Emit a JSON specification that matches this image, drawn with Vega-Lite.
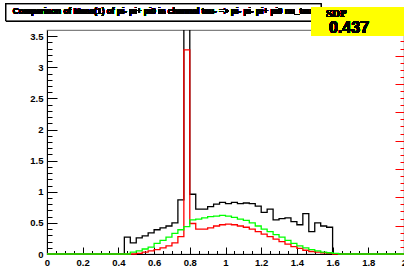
{
  "$schema": "https://vega.github.io/schema/vega-lite/v6.json",
  "width": 357,
  "height": 224,
  "autosize": {"type": "none"},
  "padding": {"left": 47, "top": 30, "right": 0, "bottom": 15},
  "background": "white",
  "config": {
    "view": {"stroke": "#808080", "strokeWidth": 1.2},
    "axis": {"grid": false, "title": null}
  },
  "data": {
    "values": [
      {"mass": 0, "h_black": 0, "h_red": 0, "h_green": 0},
      {"mass": 0.0333, "h_black": 0, "h_red": 0, "h_green": 0},
      {"mass": 0.0667, "h_black": 0, "h_red": 0, "h_green": 0},
      {"mass": 0.1, "h_black": 0, "h_red": 0, "h_green": 0},
      {"mass": 0.1333, "h_black": 0, "h_red": 0, "h_green": 0},
      {"mass": 0.1667, "h_black": 0, "h_red": 0, "h_green": 0},
      {"mass": 0.2, "h_black": 0, "h_red": 0, "h_green": 0},
      {"mass": 0.2333, "h_black": 0, "h_red": 0, "h_green": 0},
      {"mass": 0.2667, "h_black": 0, "h_red": 0, "h_green": 0},
      {"mass": 0.3, "h_black": 0, "h_red": 0, "h_green": 0},
      {"mass": 0.3333, "h_black": 0, "h_red": 0, "h_green": 0},
      {"mass": 0.3667, "h_black": 0, "h_red": 0, "h_green": 0},
      {"mass": 0.4, "h_black": 0, "h_red": 0, "h_green": 0},
      {"mass": 0.4333, "h_black": 0.27, "h_red": 0, "h_green": 0},
      {"mass": 0.4667, "h_black": 0.18, "h_red": 0, "h_green": 0.03},
      {"mass": 0.5, "h_black": 0.26, "h_red": 0.01, "h_green": 0.05},
      {"mass": 0.5333, "h_black": 0.29, "h_red": 0.03, "h_green": 0.08},
      {"mass": 0.5667, "h_black": 0.34, "h_red": 0.05, "h_green": 0.11},
      {"mass": 0.6, "h_black": 0.39, "h_red": 0.07, "h_green": 0.17},
      {"mass": 0.6333, "h_black": 0.42, "h_red": 0.10, "h_green": 0.22},
      {"mass": 0.6667, "h_black": 0.45, "h_red": 0.13, "h_green": 0.27},
      {"mass": 0.7, "h_black": 0.50, "h_red": 0.18, "h_green": 0.33},
      {"mass": 0.7333, "h_black": 0.87, "h_red": 0.28, "h_green": 0.39},
      {"mass": 0.7667, "h_black": 3.7, "h_red": 3.28, "h_green": 0.44},
      {"mass": 0.8, "h_black": 0.96, "h_red": 0.49, "h_green": 0.55},
      {"mass": 0.8333, "h_black": 0.72, "h_red": 0.40, "h_green": 0.56},
      {"mass": 0.8667, "h_black": 0.72, "h_red": 0.40, "h_green": 0.58},
      {"mass": 0.9, "h_black": 0.76, "h_red": 0.42, "h_green": 0.60},
      {"mass": 0.9333, "h_black": 0.80, "h_red": 0.45, "h_green": 0.61},
      {"mass": 0.9667, "h_black": 0.83, "h_red": 0.47, "h_green": 0.62},
      {"mass": 1.0, "h_black": 0.81, "h_red": 0.48, "h_green": 0.61},
      {"mass": 1.0333, "h_black": 0.83, "h_red": 0.47, "h_green": 0.59},
      {"mass": 1.0667, "h_black": 0.81, "h_red": 0.45, "h_green": 0.56},
      {"mass": 1.1, "h_black": 0.82, "h_red": 0.43, "h_green": 0.54},
      {"mass": 1.1333, "h_black": 0.81, "h_red": 0.40, "h_green": 0.50},
      {"mass": 1.1667, "h_black": 0.77, "h_red": 0.36, "h_green": 0.45},
      {"mass": 1.2, "h_black": 0.67, "h_red": 0.32, "h_green": 0.40},
      {"mass": 1.2333, "h_black": 0.72, "h_red": 0.28, "h_green": 0.36},
      {"mass": 1.2667, "h_black": 0.55, "h_red": 0.24, "h_green": 0.31},
      {"mass": 1.3, "h_black": 0.57, "h_red": 0.20, "h_green": 0.27},
      {"mass": 1.3333, "h_black": 0.58, "h_red": 0.16, "h_green": 0.22},
      {"mass": 1.3667, "h_black": 0.52, "h_red": 0.12, "h_green": 0.17},
      {"mass": 1.4, "h_black": 0.47, "h_red": 0.09, "h_green": 0.13},
      {"mass": 1.4333, "h_black": 0.65, "h_red": 0.06, "h_green": 0.10},
      {"mass": 1.4667, "h_black": 0.36, "h_red": 0.04, "h_green": 0.07},
      {"mass": 1.5, "h_black": 0.50, "h_red": 0.03, "h_green": 0.05},
      {"mass": 1.5333, "h_black": 0.45, "h_red": 0.02, "h_green": 0.03},
      {"mass": 1.5667, "h_black": 0.43, "h_red": 0.01, "h_green": 0.02},
      {"mass": 1.6, "h_black": 0, "h_red": 0, "h_green": 0.01},
      {"mass": 1.6333, "h_black": 0, "h_red": 0, "h_green": 0},
      {"mass": 1.6667, "h_black": 0, "h_red": 0, "h_green": 0},
      {"mass": 1.7, "h_black": 0, "h_red": 0, "h_green": 0},
      {"mass": 1.7333, "h_black": 0, "h_red": 0, "h_green": 0},
      {"mass": 1.7667, "h_black": 0, "h_red": 0, "h_green": 0},
      {"mass": 1.8, "h_black": 0, "h_red": 0, "h_green": 0},
      {"mass": 1.8333, "h_black": 0, "h_red": 0, "h_green": 0},
      {"mass": 1.8667, "h_black": 0, "h_red": 0, "h_green": 0},
      {"mass": 1.9, "h_black": 0, "h_red": 0, "h_green": 0},
      {"mass": 1.9333, "h_black": 0, "h_red": 0, "h_green": 0},
      {"mass": 1.9667, "h_black": 0, "h_red": 0, "h_green": 0},
      {"mass": 2.0, "h_black": 0, "h_red": 0, "h_green": 0}
    ]
  },
  "layer": [
    {
      "mark": {"type": "line", "interpolate": "step-after", "color": "#000000", "strokeWidth": 1.3, "clip": true},
      "encoding": {
        "x": {"field": "mass", "type": "quantitative", "scale": {"domain": [0, 2], "nice": false, "zero": false},
          "axis": {"orient": "bottom", "values": [0, 0.2, 0.4, 0.6, 0.8, 1, 1.2, 1.4, 1.6, 1.8, 2], "format": "~g", "ticks": false, "domain": true, "domainColor": "#000000", "domainWidth": 1, "labelFont": "Liberation Sans", "labelFontWeight": "bold", "labelFontSize": 9.5, "labelColor": "#000000", "labelPadding": 3, "labelFlush": false, "labelOverlap": false, "labelBound": false, "title": null}},
        "y": {"field": "h_black", "type": "quantitative", "scale": {"domain": [0, 3.6], "nice": false, "zero": true},
          "axis": {"orient": "left", "values": [0, 0.5, 1, 1.5, 2, 2.5, 3, 3.5], "format": "~g", "ticks": false, "domain": true, "domainColor": "#000000", "domainWidth": 1, "labelFont": "Liberation Sans", "labelFontWeight": "bold", "labelFontSize": 9.5, "labelColor": "#000000", "labelPadding": 4, "labelFlush": false, "labelOverlap": false, "labelBound": false, "title": null}}
      }
    },
    {
      "mark": {"type": "line", "interpolate": "step-after", "color": "#ff0000", "strokeWidth": 1.3},
      "encoding": {
        "x": {"field": "mass", "type": "quantitative", "scale": {"domain": [0, 2], "nice": false, "zero": false},
          "axis": {"orient": "bottom", "values": [0, 0.2, 0.4, 0.6, 0.8, 1, 1.2, 1.4, 1.6, 1.8, 2], "labels": false, "domain": false, "ticks": true, "tickSize": -7, "tickColor": "#000000", "tickWidth": 1, "title": null}},
        "y": {"field": "h_red", "type": "quantitative", "scale": {"domain": [0, 3.6], "nice": false, "zero": true},
          "axis": {"orient": "left", "values": [0, 0.5, 1, 1.5, 2, 2.5, 3, 3.5], "labels": false, "domain": false, "ticks": true, "tickSize": -10, "tickColor": "#000000", "tickWidth": 1, "title": null}}
      }
    },
    {
      "mark": {"type": "line", "interpolate": "step-after", "color": "#00ff00", "strokeWidth": 1.3},
      "encoding": {
        "x": {"field": "mass", "type": "quantitative", "scale": {"domain": [0, 2], "nice": false, "zero": false},
          "axis": {"orient": "bottom", "values": [0.05, 0.1, 0.15, 0.25, 0.3, 0.35, 0.45, 0.5, 0.55, 0.65, 0.7, 0.75, 0.85, 0.9, 0.95, 1.05, 1.1, 1.15, 1.25, 1.3, 1.35, 1.45, 1.5, 1.55, 1.65, 1.7, 1.75, 1.85, 1.9, 1.95], "labels": false, "domain": false, "ticks": true, "tickSize": -3.5, "tickColor": "#000000", "tickWidth": 1, "title": null}},
        "y": {"field": "h_green", "type": "quantitative", "scale": {"domain": [0, 3.6], "nice": false, "zero": true},
          "axis": {"orient": "left", "values": [0.1, 0.2, 0.3, 0.4, 0.6, 0.7, 0.8, 0.9, 1.1, 1.2, 1.3, 1.4, 1.6, 1.7, 1.8, 1.9, 2.1, 2.2, 2.3, 2.4, 2.6, 2.7, 2.8, 2.9, 3.1, 3.2, 3.3, 3.4], "labels": false, "domain": false, "ticks": true, "tickSize": -5, "tickColor": "#000000", "tickWidth": 1, "title": null}}
      }
    },
    {
      "mark": {"type": "rect", "fill": "#ffffff", "stroke": "#000000", "strokeWidth": 1, "clip": false},
      "encoding": {
        "x": {"datum": -0.2297, "type": "quantitative", "scale": {"domain": [0, 2], "nice": false, "zero": false}, "axis": null},
        "x2": {"datum": 1.535},
        "y": {"datum": 4.019, "type": "quantitative", "scale": {"domain": [0, 3.6], "nice": false, "zero": true}, "axis": null},
        "y2": {"datum": 3.746}
      }
    },
    {
      "mark": {"type": "text", "text": "Comparison of Mass(1) of pi- pi+ pi0 in channel tau- => pi- pi- pi+ pi0 nu_tau", "font": "Liberation Sans", "fontWeight": "bold", "fontSize": 8.3, "align": "left", "baseline": "alphabetic", "color": "#000000", "clip": false},
      "encoding": {
        "x": {"datum": -0.192, "type": "quantitative", "scale": {"domain": [0, 2], "nice": false, "zero": false}, "axis": null},
        "y": {"datum": 3.862, "type": "quantitative", "scale": {"domain": [0, 3.6], "nice": false, "zero": true}, "axis": null}
      }
    },
    {
      "mark": {"type": "rect", "fill": "#ffff00", "strokeWidth": 0, "clip": false},
      "encoding": {
        "x": {"datum": 1.483, "type": "quantitative", "scale": {"domain": [0, 2], "nice": false, "zero": false}, "axis": null},
        "x2": {"datum": 2.1},
        "y": {"datum": 3.965, "type": "quantitative", "scale": {"domain": [0, 3.6], "nice": false, "zero": true},
          "axis": {"orient": "right", "values": [0, 0.4555, 0.911, 1.3665, 1.822, 2.2775, 2.733, 3.1885], "labels": false, "domain": false, "ticks": true, "tickSize": -9, "tickColor": "#ff0000", "tickWidth": 1, "title": null}},
        "y2": {"datum": 3.508}
      }
    },
    {
      "mark": {"type": "text", "text": "SDP", "font": "Liberation Serif", "fontWeight": "bold", "fontSize": 11, "align": "left", "baseline": "alphabetic", "color": "#000000", "clip": false},
      "encoding": {
        "x": {"datum": 1.563, "type": "quantitative", "scale": {"domain": [0, 2], "nice": false, "zero": false}, "axis": null},
        "y": {"datum": 3.804, "type": "quantitative", "scale": {"domain": [0, 3.6], "nice": false, "zero": true},
          "axis": {"orient": "right", "values": [0.1139, 0.2278, 0.3416, 0.5694, 0.6833, 0.7971, 1.0249, 1.1388, 1.2526, 1.4804, 1.5943, 1.7081, 1.9359, 2.0498, 2.1636, 2.3914, 2.5053, 2.6191, 2.8469, 2.9608, 3.0746, 3.3024, 3.4163, 3.5301], "labels": false, "domain": false, "ticks": true, "tickSize": -4, "tickColor": "#ff0000", "tickWidth": 1, "title": null}}
      }
    },
    {
      "mark": {"type": "text", "text": "0.437", "font": "Liberation Sans", "fontWeight": "bold", "fontSize": 16, "align": "left", "baseline": "alphabetic", "color": "#000000", "clip": false},
      "encoding": {
        "x": {"datum": 1.58, "type": "quantitative", "scale": {"domain": [0, 2], "nice": false, "zero": false}, "axis": null},
        "y": {"datum": 3.547, "type": "quantitative", "scale": {"domain": [0, 3.6], "nice": false, "zero": true}, "axis": null}
      }
    }
  ],
  "resolve": {"axis": {"x": "independent", "y": "independent"}}
}
